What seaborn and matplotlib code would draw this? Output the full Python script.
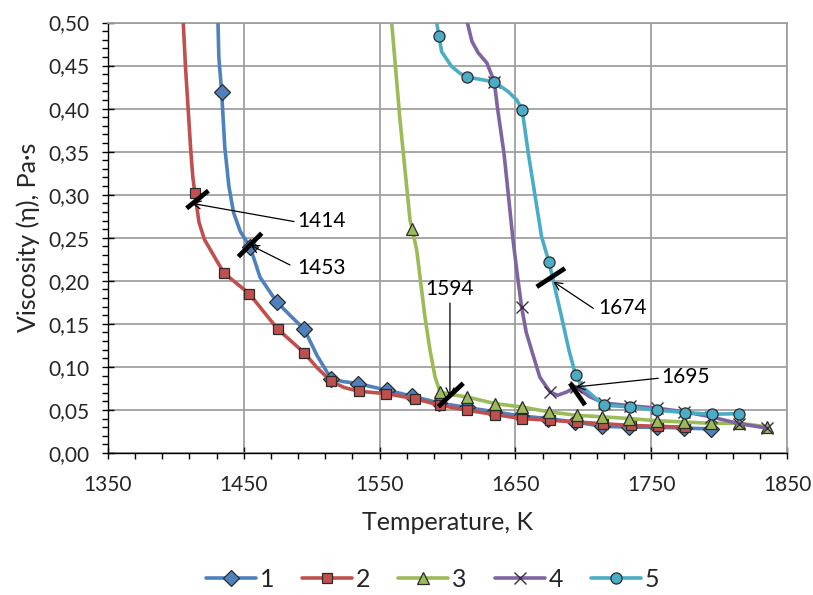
import matplotlib
matplotlib.use("Agg")
import matplotlib.pyplot as plt
import seaborn as sns
from matplotlib.lines import Line2D
from matplotlib.ticker import MultipleLocator, FixedLocator, FuncFormatter

# ---------------- data ----------------
series_names = ["1", "2", "3", "4", "5"]
colors = ["#4F81BD", "#C0504D", "#9BBB59", "#8064A2", "#4BACC6"]
x_ticks = [1350, 1450, 1550, 1650, 1750, 1850]

# traced curve points (K, Pa·s)
line1_x = [1430.6, 1431.0, 1431.6, 1433.7, 1436.0, 1439.0, 1442.5, 1447.5, 1454.6, 1462.0, 1474.2, 1484.0,
           1494.6, 1504.0, 1514.2, 1523.0, 1533.8, 1555.2, 1574, 1594, 1614, 1634, 1654, 1674, 1694,
           1714, 1734, 1754, 1774, 1794]
line1_y = [0.56, 0.50, 0.46, 0.419, 0.355, 0.310, 0.279, 0.257, 0.2396, 0.204, 0.1756, 0.160,
           0.1435, 0.113, 0.0865, 0.083, 0.0807, 0.073, 0.066, 0.058, 0.053, 0.048, 0.043, 0.040, 0.036,
           0.031, 0.030, 0.030, 0.029, 0.028]
mark1_x = [1433.7, 1454.6, 1474.2, 1494.6, 1514.2, 1533.8, 1555.2, 1574, 1594, 1614, 1634, 1654, 1674,
           1694, 1714, 1734, 1754, 1774, 1794]
mark1_y = [0.419, 0.2396, 0.1756, 0.1435, 0.0865, 0.0807, 0.073, 0.066, 0.058, 0.053, 0.048, 0.043, 0.040,
           0.036, 0.031, 0.030, 0.030, 0.029, 0.028]

line2_x = [1404.0, 1405.4, 1407.0, 1409.0, 1411.0, 1412.5, 1414.0, 1417.0, 1421.0, 1427.6, 1435.4, 1454.0,
           1475.0, 1494.3, 1504.0, 1514.2, 1524.0, 1534.8, 1554.6, 1576.0, 1594.5, 1614.0, 1635.0, 1654.6,
           1675.5, 1695.0, 1714.7, 1735.0, 1755.0, 1775.0]
line2_y = [0.58, 0.50, 0.45, 0.40, 0.35, 0.32, 0.3016, 0.268, 0.248, 0.230, 0.209, 0.185,
           0.1438, 0.1167, 0.099, 0.0834, 0.076, 0.0717, 0.069, 0.063, 0.0555, 0.0497, 0.0446, 0.040,
           0.038, 0.036, 0.034, 0.032, 0.031, 0.030]
mark2_x = [1414.0, 1435.4, 1454.0, 1475.0, 1494.3, 1514.2, 1534.8, 1554.6, 1576.0, 1594.5, 1614.0, 1635.0,
           1654.6, 1675.5, 1695.0, 1714.7, 1735.0, 1755.0, 1775.0]
mark2_y = [0.3016, 0.209, 0.185, 0.1438, 0.1167, 0.0834, 0.0717, 0.069, 0.063, 0.0555, 0.0497, 0.0446,
           0.040, 0.038, 0.036, 0.034, 0.032, 0.031, 0.030]

line3_x = [1555.5, 1558.9, 1565.0, 1572.4, 1574.0, 1577.3, 1583.4, 1587.1, 1590.8, 1594.5, 1602.0, 1614.6,
           1635.0, 1654.6, 1675.0, 1695.0, 1714.0, 1734.0, 1754.0, 1774.0, 1794.0, 1815.0, 1835.0]
line3_y = [0.60, 0.50, 0.387, 0.2706, 0.26, 0.236, 0.158, 0.1196, 0.0886, 0.071, 0.068, 0.065,
           0.0574, 0.0535, 0.0477, 0.0438, 0.042, 0.040, 0.0375, 0.036, 0.0345, 0.0345, 0.0305]
mark3_x = [1574.0, 1594.5, 1614.6, 1635.0, 1654.6, 1675.0, 1695.0, 1714.0, 1734.0, 1754.0, 1774.0, 1794.0,
           1815.0, 1835.0]
mark3_y = [0.26, 0.071, 0.065, 0.0574, 0.0535, 0.0477, 0.0438, 0.042, 0.040, 0.0375, 0.036, 0.0345,
           0.0345, 0.0305]

line4_x = [1613.5, 1614.6, 1618.0, 1622.5, 1629.0, 1634.5, 1636.7, 1641.6, 1644.8, 1648.0, 1651.0, 1654.6,
           1658.0, 1662.0, 1668.0, 1675.5, 1681.0, 1688.0, 1694.5, 1704.0, 1715.0, 1734.4, 1754.5, 1774.0,
           1794.0, 1815.0, 1835.0]
line4_y = [0.53, 0.50, 0.478, 0.465, 0.453, 0.431, 0.402, 0.348, 0.30, 0.251, 0.212, 0.169,
           0.140, 0.119, 0.088, 0.071, 0.067, 0.071, 0.077, 0.066, 0.058, 0.055, 0.052, 0.048,
           0.042, 0.034, 0.029]
mark4_x = [1634.5, 1654.6, 1675.5, 1694.5, 1715.0, 1734.4, 1754.5, 1774.0, 1794.0, 1815.0, 1835.0]
mark4_y = [0.431, 0.169, 0.071, 0.077, 0.058, 0.055, 0.052, 0.048, 0.042, 0.034, 0.029]

line5_x = [1591.5, 1592.0, 1593.7, 1595.7, 1603.0, 1609.2, 1614.6, 1623.9, 1634.5, 1644.8, 1651.0, 1655.0,
           1659.5, 1669.3, 1674.7, 1684.0, 1689.5, 1694.4, 1699.0, 1704.9, 1715.2, 1734.4, 1754.5, 1774.9,
           1794.5, 1814.9]
line5_y = [0.53, 0.50, 0.4845, 0.466, 0.449, 0.441, 0.4365, 0.434, 0.431, 0.4196, 0.410, 0.3985,
           0.348, 0.251, 0.222, 0.158, 0.119, 0.0904, 0.077, 0.0693, 0.0555, 0.0535, 0.0497, 0.047,
           0.045, 0.0457]
mark5_x = [1593.7, 1614.6, 1634.5, 1655.0, 1674.7, 1694.4, 1715.2, 1734.4, 1754.5, 1774.9, 1794.5, 1814.9]
mark5_y = [0.4845, 0.4365, 0.431, 0.3985, 0.222, 0.0904, 0.0555, 0.0535, 0.0497, 0.047, 0.045, 0.0457]

# annotations: label, text position, arrow start, arrow tip, bar end A, bar end B
ann_labels = ["1414", "1453", "1594", "1674", "1695"]
ann_text_x = [1489.2, 1489.2, 1601.8, 1710.8, 1757.7]
ann_text_y = [0.2695, 0.2149, 0.1905, 0.1684, 0.0883]
ann_from_x = [1487.0, 1484.0, 1601.8, 1707.4, 1755.2]
ann_from_y = [0.2688, 0.2184, 0.1742, 0.1680, 0.0868]
ann_tip_x = [1411.6, 1454.6, 1601.8, 1677.9, 1694.6]
ann_tip_y = [0.2900, 0.2416, 0.0650, 0.1990, 0.0767]
bar_x0 = [1407.9, 1446.0, 1593.2, 1665.7, 1690.2]
bar_y0 = [0.2842, 0.2280, 0.0538, 0.1930, 0.0810]
bar_x1 = [1423.9, 1463.2, 1611.6, 1686.5, 1701.3]
bar_y1 = [0.3046, 0.2552, 0.0810, 0.2145, 0.0557]

# ---------------- style ----------------
sns.set_theme(style="white")
plt.rcParams["font.family"] = ["Lato", "DejaVu Sans"]
FS = 15
FS_LAB = 18

fig = plt.figure(figsize=(8.13, 5.95), dpi=100)
W, H = 813, 595
ax = fig.add_axes([108 / W, 1 - 453 / H, (787 - 108) / W, (453 - 22.5) / H])

lines = [(line1_x, line1_y), (line2_x, line2_y), (line3_x, line3_y), (line4_x, line4_y), (line5_x, line5_y)]
marks = [(mark1_x, mark1_y), (mark2_x, mark2_y), (mark3_x, mark3_y), (mark4_x, mark4_y), (mark5_x, mark5_y)]
mstyle = [("D", 8.5), ("s", 7.5), ("^", 9), ("x", 8), ("o", 8)]
edge = "#2b2b2b"

for i in range(5):
    lx, ly = lines[i]
    mx, my = marks[i]
    z = 3 + i
    sns.lineplot(x=lx, y=ly, sort=False, estimator=None, color=colors[i], lw=2.6, ax=ax, zorder=z)
    m, ms = mstyle[i]
    if m == "x":
        ax.plot(mx, my, ls="none", marker="x", ms=ms, mew=1.0, color="#3a3040", zorder=z + 0.5)
    else:
        ax.plot(mx, my, ls="none", marker=m, ms=ms, mfc=colors[i], mec=edge, mew=0.9, zorder=z + 0.5)

# annotation bars + arrows
for i in range(len(ann_labels)):
    ax.plot([bar_x0[i], bar_x1[i]], [bar_y0[i], bar_y1[i]], color="black", lw=3.4,
            solid_capstyle="butt", zorder=20)
    ax.annotate("", xy=(ann_tip_x[i], ann_tip_y[i]), xytext=(ann_from_x[i], ann_from_y[i]),
                arrowprops=dict(arrowstyle="->", color="black", lw=0.9, shrinkA=0, shrinkB=0,
                                mutation_scale=14), zorder=21)
    ha = "center" if ann_labels[i] == "1594" else "left"
    ax.text(ann_text_x[i], ann_text_y[i], ann_labels[i], fontsize=FS, ha=ha, va="center",
            color="black", zorder=22)

ax.set_xlim(1350, 1850)
ax.set_ylim(0, 0.5)
ax.xaxis.set_major_locator(FixedLocator(x_ticks))
ax.xaxis.set_minor_locator(MultipleLocator(20, offset=10))
ax.yaxis.set_major_locator(MultipleLocator(0.05))
ax.yaxis.set_minor_locator(MultipleLocator(0.01))
ax.yaxis.set_major_formatter(FuncFormatter(lambda v, p: f"{v:.2f}".replace(".", ",")))
ax.xaxis.set_major_formatter(FuncFormatter(lambda v, p: f"{v:.0f}"))

ax.grid(True, which="major", color="#A0A0A0", lw=1.3)
ax.set_axisbelow(True)
for s in ["top", "right"]:
    ax.spines[s].set_color("#A0A0A0")
    ax.spines[s].set_linewidth(1.3)
for s in ["left", "bottom"]:
    ax.spines[s].set_color("black")
    ax.spines[s].set_linewidth(1.0)

ax.tick_params(axis="both", which="major", direction="inout", length=9, width=1.0, color="black",
               labelsize=FS, bottom=True, left=True)
ax.tick_params(axis="x", which="major", pad=11)
ax.tick_params(axis="y", which="major", pad=9)
ax.tick_params(axis="both", which="minor", direction="out", length=4, width=1.0, color="black",
               bottom=True, left=True)

ax.set_xlabel("Temperature, K", fontsize=FS_LAB, labelpad=12)
ax.set_ylabel("Viscosity (η), Pa·s", fontsize=FS_LAB, labelpad=6)

handles = []
for i in range(5):
    m, ms = mstyle[i]
    if m == "x":
        h = Line2D([], [], color=colors[i], lw=2.6, marker="x", ms=ms, mec="#3a3040", mew=1.0)
    else:
        h = Line2D([], [], color=colors[i], lw=2.6, marker=m, ms=ms, mfc=colors[i], mec=edge, mew=0.9)
    handles.append(h)
fig.legend(handles, series_names, loc="center", bbox_to_anchor=(0.532, 0.026), ncol=5, frameon=False,
           fontsize=FS_LAB, handlelength=2.0, handletextpad=0.15, columnspacing=1.12)

fig.savefig("out.png", dpi=100)
